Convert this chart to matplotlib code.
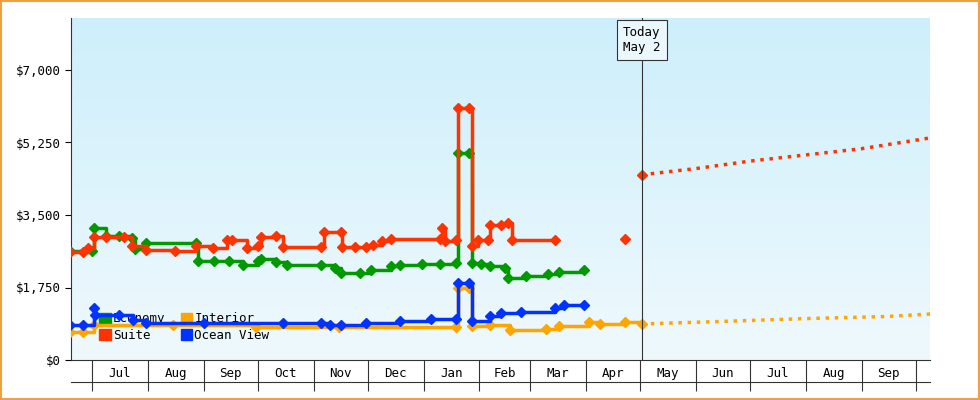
import matplotlib
matplotlib.use("Agg")
import matplotlib.pyplot as plt
import numpy as np
import pandas as pd
import matplotlib.dates as mdates

suite_dates = ["2024-06-19","2024-06-26","2024-06-29","2024-07-02","2024-07-09","2024-07-19","2024-07-23","2024-07-31","2024-08-16","2024-08-28","2024-09-06","2024-09-14","2024-09-17","2024-09-25","2024-10-01","2024-10-03","2024-10-11","2024-10-15","2024-11-05","2024-11-07","2024-11-16","2024-11-17","2024-11-24","2024-11-30","2024-12-04","2024-12-09","2024-12-14","2025-01-10","2025-01-11","2025-01-13","2025-01-19","2025-01-20","2025-01-26","2025-01-28","2025-01-31","2025-02-06","2025-02-07","2025-02-13","2025-02-17","2025-02-19","2025-03-15"]
suite_vals = [2600,2600,2700,2970,2970,2970,2750,2650,2620,2750,2700,2900,2900,2700,2750,2970,3000,2720,2720,3090,3090,2720,2720,2720,2770,2870,2920,2920,3190,2870,2900,6080,6080,2750,2900,2900,3260,3260,3300,2900,2900]
suite_extra_dates = ["2025-04-23"]
suite_extra_vals = [2920]

econ_dates = ["2024-06-19","2024-07-01","2024-07-02","2024-07-09","2024-07-16","2024-07-23","2024-07-25","2024-07-31","2024-08-28","2024-08-29","2024-09-07","2024-09-15","2024-09-23","2024-10-01","2024-10-03","2024-10-11","2024-10-17","2024-11-05","2024-11-13","2024-11-16","2024-11-27","2024-12-03","2024-12-14","2024-12-19","2024-12-31","2025-01-10","2025-01-19","2025-01-20","2025-01-26","2025-01-28","2025-02-02","2025-02-07","2025-02-15","2025-02-17","2025-02-27","2025-03-11","2025-03-17","2025-03-31"]
econ_vals = [2630,2630,3190,2990,2990,2940,2680,2820,2820,2390,2390,2390,2290,2390,2440,2370,2290,2290,2220,2100,2100,2170,2270,2290,2320,2320,2340,5000,5000,2340,2320,2270,2220,1980,2030,2080,2120,2170]

ocean_dates = ["2024-06-19","2024-06-26","2024-07-02","2024-07-03","2024-07-16","2024-07-24","2024-07-31","2024-09-01","2024-10-15","2024-11-05","2024-11-10","2024-11-16","2024-11-30","2024-12-19","2025-01-05","2025-01-19","2025-01-20","2025-01-26","2025-01-28","2025-02-07","2025-02-13","2025-02-24","2025-03-15","2025-03-20","2025-03-31"]
ocean_vals = [845,845,1255,1090,1090,970,890,890,890,890,845,845,890,940,990,990,1860,1860,940,1060,1135,1160,1255,1330,1330]

interior_dates = ["2024-06-19","2024-06-26","2024-07-02","2024-08-15","2024-09-30","2024-11-15","2025-01-19","2025-01-20","2025-01-26","2025-01-28","2025-02-07","2025-02-18","2025-03-10","2025-03-17","2025-04-03","2025-04-09","2025-04-23","2025-05-02"]
interior_vals = [675,675,845,845,800,800,800,1740,1740,820,845,725,750,820,920,870,920,870]

suite_fc_dates = ["2025-05-02","2025-06-01","2025-07-01","2025-08-01","2025-09-01","2025-10-09"]
suite_fc_vals = [4470,4620,4800,4950,5100,5360]
int_fc_dates = ["2025-05-02","2025-06-15","2025-08-01","2025-09-15","2025-10-09"]
int_fc_vals = [870,930,1000,1050,1110]

GREEN, RED, ORANGE, BLUE = "#009900", "#ff3300", "#ffa500", "#0033ff"
mono = "DejaVu Sans Mono"

fig = plt.figure(figsize=(9.8, 4.0), dpi=100)
fig.patch.set_facecolor("white")
fig.add_artist(plt.Rectangle((0.001, 0.002), 0.998, 0.996, transform=fig.transFigure,
                             fill=False, edgecolor="#f0a040", lw=1.5))
ax = fig.add_axes([71/980, 40/400, (930-71)/980, (382-40)/400])
d = lambda s: mdates.date2num(pd.to_datetime(s))
x0, x1 = d("2024-06-19 10:00"), d("2025-10-09 00:00")
ymax = 7000 * 342 / 290
ax.set_xlim(x0, x1)
ax.set_ylim(0, ymax)

grad = np.linspace(0, 1, 256).reshape(-1, 1)
from matplotlib.colors import LinearSegmentedColormap
cm = LinearSegmentedColormap.from_list("g", ["#eff9fd", "#cdeffb"])
ax.imshow(grad, aspect="auto", cmap=cm, origin="lower", extent=[x0, x1, 0, ymax], zorder=0)

def series(dates, vals, c, z):
    ax.plot([d(s) for s in dates], vals, color=c, lw=2.5, drawstyle="steps-post", zorder=z)
    ax.plot([d(s) for s in dates], vals, "D", color=c, ms=5, zorder=z)

series(econ_dates, econ_vals, GREEN, 3)
series(suite_dates, suite_vals, RED, 4)
series(interior_dates, interior_vals, ORANGE, 3)
series(ocean_dates, ocean_vals, BLUE, 5)
ax.plot([d(s) for s in suite_extra_dates], suite_extra_vals, "D", color=RED, ms=5, zorder=4)
ax.plot([d(s) for s in suite_fc_dates], suite_fc_vals, ":", color=RED, lw=2.5, zorder=4)
ax.plot([d(suite_fc_dates[0])], [suite_fc_vals[0]], "D", color=RED, ms=5, zorder=4)
ax.plot([d(s) for s in int_fc_dates], int_fc_vals, ":", color=ORANGE, lw=2.5, zorder=4)

today = d("2025-05-02")
ax.axvline(today, color="#333333", lw=0.8, zorder=6)
ax.text(today, 7720, "Today\nMay 2", ha="center", va="center", fontsize=9, family=mono,
        bbox=dict(boxstyle="square,pad=0.5", fc="#eaf7fc", ec="#333333", lw=0.8), zorder=7)

ax.set_yticks([0, 1750, 3500, 5250, 7000])
ax.set_yticklabels(["$0", "$1,750", "$3,500", "$5,250", "$7,000"], family=mono, fontsize=9)
ax.tick_params(axis="y", length=4)
for s in ["top", "right"]:
    ax.spines[s].set_visible(False)
ax.spines["left"].set_color("#333333")
ax.spines["bottom"].set_color("#333333")

bounds = pd.date_range("2024-07-01", "2025-10-01", freq="MS")
ax.set_xticks([d(b) for b in bounds])
ax.set_xticklabels([])
ax.tick_params(axis="x", length=22, direction="out", color="#333333")
for a, b in zip(bounds[:-1], bounds[1:]):
    ax.text((d(a) + d(b)) / 2, -330, a.strftime("%b"), ha="center", va="center",
            family=mono, fontsize=9)
ax.plot([x0, x1], [-530, -530], color="#333333", lw=0.8, clip_on=False)

from matplotlib.patches import Patch
h = [Patch(color=GREEN, label="Economy"), Patch(color=RED, label="Suite"),
     Patch(color=ORANGE, label="Interior"), Patch(color=BLUE, label="Ocean View")]
leg = ax.legend(handles=h, ncol=2, loc="lower left", bbox_to_anchor=(0.02, 0.02),
                frameon=False, prop={"family": mono, "size": 9}, handlelength=0.9,
                handleheight=0.9, handletextpad=0.2, columnspacing=1.2, labelspacing=0.3)
leg.set_zorder(2)

fig.savefig("out.png", dpi=100)
